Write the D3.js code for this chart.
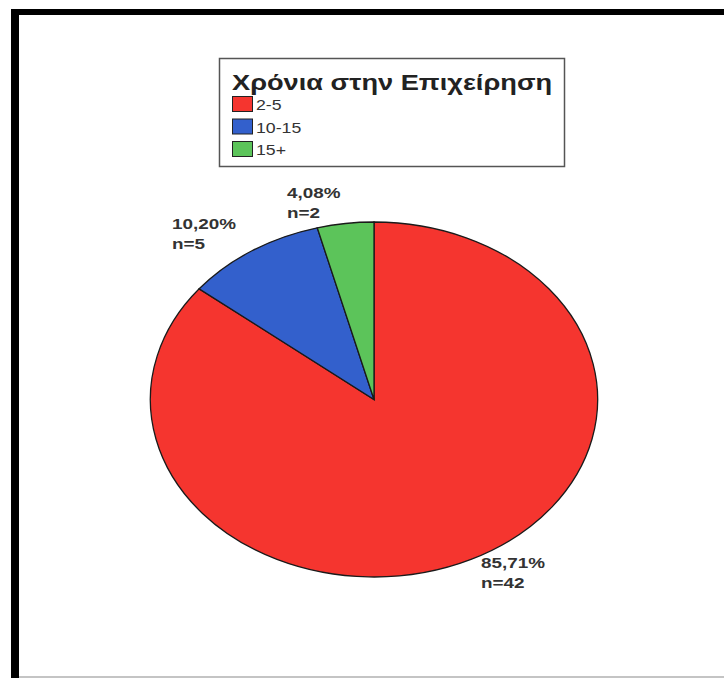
<!DOCTYPE html>
<html>
<head>
<meta charset="utf-8">
<script src="https://cdn.jsdelivr.net/npm/d3@7"></script>
<style>
  html, body { margin: 0; padding: 0; background: #fff; }
  svg { display: block; }
  text { font-family: "Liberation Sans", Arial, sans-serif; }
</style>
</head>
<body>
<script>
// Years in the business: category labels, respondent counts and colours
const categories = ["2-5", "10-15", "15+"];
const counts = [42, 5, 2];
const pctLabels = ["85,71%", "10,20%", "4,08%"];
const nLabels = ["n=42", "n=5", "n=2"];
const colors = ["#f5352f", "#3360cc", "#5cc45a"];
const legendTitle = "Χρόνια στην Επιχείρηση";

const W = 724, H = 678;
const svg = d3.select("body").append("svg").attr("width", W).attr("height", H);

// The whole chart is drawn with a horizontal stretch
const sx = 1.26;

// Text placed at (x, y) and stretched horizontally
function stretchedText(g, x, y, str, size, weight, fill, s) {
  return g.append("text")
    .attr("transform", `translate(${x},${y}) scale(${s},1)`)
    .attr("font-size", size).attr("font-weight", weight).attr("fill", fill)
    .text(str);
}

// Frame
svg.append("rect").attr("x", 11).attr("y", 9).attr("width", W - 11).attr("height", 6).attr("fill", "#000");
svg.append("rect").attr("x", 11).attr("y", 9).attr("width", 8).attr("height", H - 9).attr("fill", "#000");
svg.append("rect").attr("x", 19).attr("y", 676).attr("width", W - 19).attr("height", 2).attr("fill", "#c4c4c4");

// Pie (drawn as an ellipse by scaling a circular pie)
const cx = 374, cy = 399.5, ry = 177.5, rx = ry * sx;
const pie = d3.pie().sort(null).value(d => d)(counts);
const arc = d3.arc().innerRadius(0).outerRadius(ry);
const pieG = svg.append("g").attr("transform", `translate(${cx},${cy}) scale(${rx / ry},1)`);
pieG.selectAll("path").data(pie).join("path")
  .attr("d", arc)
  .attr("fill", (d, i) => colors[i])
  .attr("stroke", "#1a1a1a")
  .attr("stroke-width", 1.3)
  .attr("vector-effect", "non-scaling-stroke");

// Slice labels
const labelPos = [[481, 568], [172, 229], [287, 198]];
const labG = svg.append("g");
pie.forEach((d, i) => {
  const [x, y] = labelPos[i];
  stretchedText(labG, x, y, pctLabels[i], 15, "bold", "#333", sx);
  stretchedText(labG, x, y + 20, nLabels[i], 15, "bold", "#333", sx);
});

// Legend
const lg = svg.append("g");
lg.append("rect").attr("x", 219.5).attr("y", 58.5).attr("width", 345).attr("height", 108)
  .attr("fill", "#fff").attr("stroke", "#555").attr("stroke-width", 1.5);
stretchedText(lg, 232, 90, legendTitle, 22.5, "bold", "#222", 1.21);
categories.forEach((c, i) => {
  const y = 96 + i * 22.5;
  lg.append("rect").attr("x", 232.5).attr("y", y + 0.5).attr("width", 20).attr("height", 15)
    .attr("fill", colors[i]).attr("stroke", "#222").attr("stroke-width", 1);
  stretchedText(lg, 256, y + 14, c, 15, "normal", "#333", 1.18);
});
</script>
</body>
</html>
